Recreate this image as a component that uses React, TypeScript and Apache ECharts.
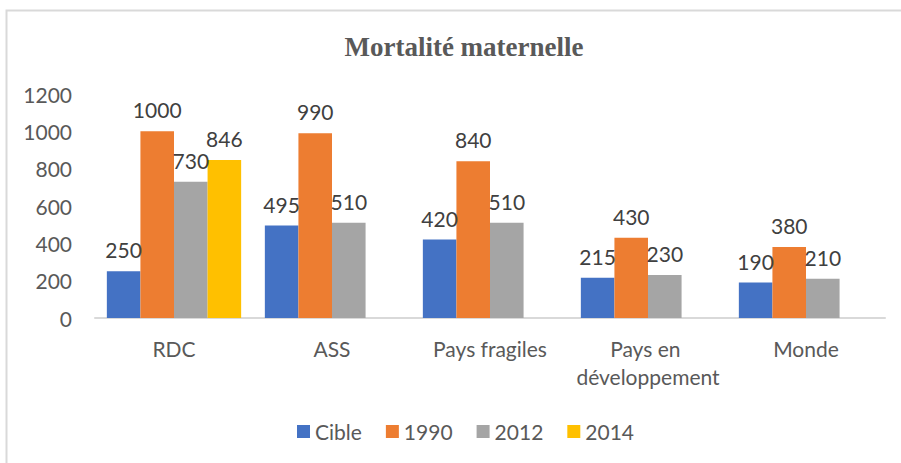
import React, { useEffect, useRef } from "react";
import * as echarts from "echarts";

const categories = ["RDC", "ASS", "Pays fragiles", "Pays en développement", "Monde"];
const seriesNames = ["Cible", "1990", "2012", "2014"];
const cible = [250, 495, 420, 215, 190];
const y1990 = [1000, 990, 840, 430, 380];
const y2012 = [730, 510, 510, 230, 210];
const y2014 = [846, null, null, null, null];
const colors = ["#4472C4", "#ED7D31", "#A5A5A5", "#FFC000"];
const yTicks = { min: 0, max: 1200, interval: 200 };
const titleText = "Mortalité maternelle";

const FONT = "Lato, 'Noto Sans', sans-serif";

export default function App() {
  const ref = useRef<HTMLDivElement>(null);
  useEffect(() => {
    const chart = echarts.init(ref.current!, null, { renderer: "svg" });
    const data = [cible, y1990, y2012, y2014];
    chart.setOption({
      animation: false,
      backgroundColor: "#ffffff",
      graphic: [
        {
          type: "rect",
          shape: { x: 6.5, y: 10.5, width: 1000, height: 1000 },
          style: { fill: "none", stroke: "#d9d9d9", lineWidth: 2 },
          silent: true,
        },
        {
          type: "text",
          x: 464,
          y: 47,
          style: {
            text: titleText,
            align: "center",
            verticalAlign: "middle",
            fontFamily: "'Liberation Serif', 'Times New Roman', serif",
            fontWeight: "bold",
            fontSize: 27,
            fill: "#595959",
          },
          silent: true,
        },
      ],
      legend: {
        bottom: 16,
        left: 292,
        itemWidth: 13,
        itemHeight: 13,
        itemGap: 24,
        icon: "rect",
        textStyle: { fontFamily: FONT, fontSize: 21, color: "#595959" },
        data: seriesNames,
      },
      grid: { left: 95, right: 16, top: 94, bottom: 145, containLabel: false },
      xAxis: {
        type: "category",
        data: categories,
        axisLine: { lineStyle: { color: "#d9d9d9", width: 2 } },
        axisTick: { show: false },
        axisLabel: {
          fontFamily: FONT,
          fontSize: 21,
          color: "#595959",
          margin: 16,
          lineHeight: 28,
          width: 155,
          overflow: "break",
          interval: 0,
        },
      },
      yAxis: {
        type: "value",
        min: yTicks.min,
        max: yTicks.max,
        interval: yTicks.interval,
        axisLine: { show: false },
        axisTick: { show: false },
        splitLine: { show: false },
        axisLabel: {
          fontFamily: FONT,
          fontSize: 21,
          color: "#595959",
          margin: 23,
          formatter: (v: number) => String(v),
        },
      },
      series: seriesNames.map((name, i) => ({
        name,
        type: "bar",
        data: data[i],
        itemStyle: { color: colors[i] },
        barGap: "0%",
        barCategoryGap: "15%",
        label: {
          show: true,
          position: "top",
          distance: 11,
          fontFamily: FONT,
          fontSize: 21,
          color: "#404040",
        },
      })),
    });
    return () => chart.dispose();
  }, []);
  return (
    <div
      ref={ref}
      style={{ position: "fixed", left: 0, top: 0, width: 901, height: 463 }}
    />
  );
}
